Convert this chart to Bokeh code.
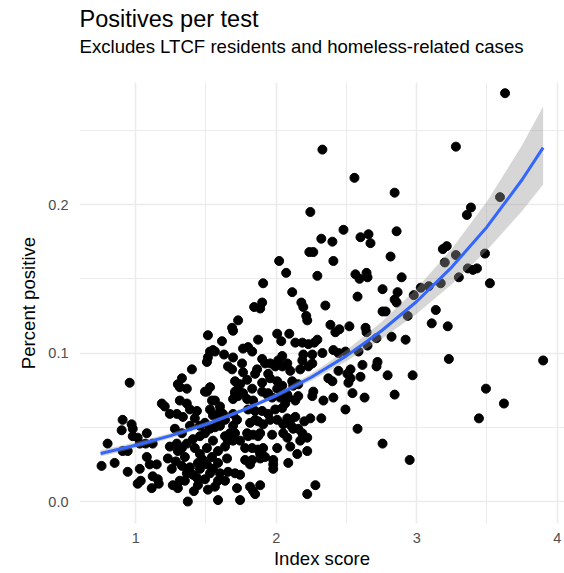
from bokeh.plotting import figure
from bokeh.models import Title, FixedTicker, Range1d, NumeralTickFormatter
from bokeh.embed import file_html
from bokeh.resources import INLINE

# Scatter data: index score vs percent positive
index_score = [
    3.629, 2.329, 3.279, 2.557, 2.843, 3.593, 3.386, 3.357, 2.243, 2.479,
    2.857, 2.321, 2.400, 2.600, 2.657, 2.671, 2.814, 3.186, 3.214, 3.279,
    3.200, 3.486, 2.021, 2.236, 2.264, 2.407, 2.071, 2.293, 2.564, 2.643,
    2.593, 2.650, 2.893, 1.907, 3.364, 3.400, 3.429, 3.300, 3.521, 2.757,
    2.864, 2.579, 2.114, 2.179, 2.193, 2.350, 1.843, 1.900, 1.886, 2.843,
    2.857, 2.757, 2.779, 3.136, 3.107, 3.221, 2.936, 2.979, 3.029, 3.086,
    3.171, 2.214, 2.221, 2.386, 2.421, 2.450, 2.521, 2.636, 2.643, 1.729,
    1.686, 1.693, 1.514, 1.614, 2.007, 2.093, 1.871, 2.293, 2.821, 2.921,
    2.714, 2.036, 2.650, 2.586, 3.229, 3.900, 2.529, 2.507, 2.529, 2.514,
    2.600, 2.614, 2.721, 2.714, 2.793, 2.971, 2.543, 2.629, 2.843, 2.493,
    3.493, 3.621, 3.443, 2.579, 2.757, 2.950, 1.529, 1.550, 1.514, 1.507,
    1.400, 1.329, 0.957, 1.314, 1.364, 1.529, 1.507, 2.136, 2.186, 2.229,
    2.271, 1.564, 1.629, 1.764, 1.800, 1.829, 1.693, 1.900, 2.043, 2.193,
    2.257, 2.329, 2.407, 2.443, 1.657, 1.686, 1.757, 1.764, 1.864, 1.957,
    1.993, 2.043, 2.079, 2.100, 2.171, 2.257, 2.371, 2.400, 2.443, 1.707,
    1.743, 1.793, 1.900, 1.957, 2.007, 2.043, 2.114, 1.829, 2.493, 1.921,
    1.943, 1.850, 2.014, 2.007, 1.936, 1.971, 2.029, 2.079, 2.121, 2.157,
    2.186, 2.229, 1.836, 1.729, 1.707, 1.693, 1.493, 1.543, 1.300, 1.186,
    1.207, 1.314, 1.364, 1.386, 1.243, 1.293, 1.336, 1.436, 1.421, 0.907,
    0.971, 0.979, 0.900, 1.079, 0.979, 1.014, 0.800, 0.907, 0.943, 1.029,
    1.071, 1.121, 1.243, 1.293, 1.329, 1.364, 1.407, 1.457, 1.493, 1.529,
    1.564, 0.757, 0.850, 1.079, 1.100, 1.150, 1.029, 0.943, 1.229, 1.257,
    1.121, 1.157, 1.014, 1.036, 1.114, 1.264, 1.329, 1.364, 1.386, 1.407,
    1.436, 1.479, 1.507, 1.529, 1.550, 1.493, 1.350, 1.371, 1.586, 1.300,
    1.350, 1.421, 1.457, 1.507, 1.550, 1.586, 1.543, 1.443, 1.286, 1.457,
    1.586, 1.600, 1.586, 1.443, 1.514, 1.564, 1.414, 1.636, 1.657, 1.600,
    1.636, 1.550, 1.493, 1.529, 1.600, 1.457, 1.386, 1.329, 1.279, 1.850,
    1.900, 1.850, 1.793, 1.836, 1.886, 1.829, 1.886, 1.907, 1.650, 1.671,
    1.693, 1.779, 1.814, 1.829, 1.886, 1.979, 1.979, 1.979, 2.086, 1.707,
    1.743, 1.721, 1.814, 1.836, 1.886, 1.743, 1.314, 1.300, 2.221, 2.100,
    2.150, 2.221, 1.707, 1.729, 1.764, 1.793, 1.900, 1.943, 2.043, 2.064,
    2.086, 2.157, 2.136, 2.257, 2.264, 2.336, 2.407, 1.564, 1.600, 1.621,
    1.586, 1.800, 1.943, 1.993, 2.043, 2.079, 2.136, 1.693, 1.721, 1.693,
    1.707, 1.814, 1.871, 1.907, 1.957, 2.007, 2.050, 2.243, 2.321, 1.800,
    1.871, 1.971, 2.050, 2.079, 2.121, 2.157, 2.186, 2.221, 1.636, 1.657,
    1.636, 1.743, 1.779, 1.871, 1.921, 2.007, 2.279, 1.164, 1.850, 2.100,
    2.107, 2.200, 2.171,
]
percent_positive = [
    0.275, 0.237, 0.239, 0.218, 0.208, 0.205, 0.198, 0.193, 0.195, 0.183,
    0.182, 0.177, 0.175, 0.178, 0.180, 0.174, 0.165, 0.170, 0.172, 0.166,
    0.161, 0.167, 0.162, 0.168, 0.168, 0.162, 0.154, 0.152, 0.153, 0.154,
    0.150, 0.151, 0.151, 0.147, 0.157, 0.156, 0.157, 0.151, 0.147, 0.143,
    0.141, 0.138, 0.141, 0.134, 0.131, 0.132, 0.131, 0.134, 0.130, 0.136,
    0.134, 0.128, 0.128, 0.129, 0.120, 0.118, 0.125, 0.139, 0.144, 0.145,
    0.147, 0.125, 0.122, 0.119, 0.114, 0.116, 0.118, 0.117, 0.114, 0.122,
    0.117, 0.115, 0.112, 0.108, 0.113, 0.113, 0.109, 0.109, 0.111, 0.109,
    0.110, 0.108, 0.105, 0.101, 0.096, 0.095, 0.089, 0.086, 0.083, 0.080,
    0.084, 0.092, 0.094, 0.091, 0.085, 0.085, 0.073, 0.070, 0.072, 0.062,
    0.076, 0.066, 0.056, 0.049, 0.039, 0.028, 0.101, 0.102, 0.097, 0.094,
    0.089, 0.083, 0.080, 0.077, 0.076, 0.077, 0.074, 0.107, 0.107, 0.106,
    0.107, 0.101, 0.099, 0.103, 0.104, 0.101, 0.097, 0.096, 0.098, 0.099,
    0.099, 0.100, 0.102, 0.100, 0.091, 0.089, 0.093, 0.087, 0.089, 0.093,
    0.091, 0.091, 0.093, 0.088, 0.089, 0.093, 0.083, 0.081, 0.088, 0.081,
    0.079, 0.082, 0.080, 0.083, 0.081, 0.078, 0.081, 0.076, 0.101, 0.093,
    0.086, 0.086, 0.095, 0.076, 0.072, 0.070, 0.070, 0.072, 0.078, 0.079,
    0.095, 0.091, 0.068, 0.076, 0.073, 0.069, 0.074, 0.068, 0.079, 0.066,
    0.064, 0.068, 0.066, 0.062, 0.059, 0.059, 0.057, 0.061, 0.056, 0.055,
    0.052, 0.049, 0.048, 0.046, 0.044, 0.043, 0.039, 0.034, 0.034, 0.039,
    0.039, 0.039, 0.037, 0.039, 0.036, 0.039, 0.042, 0.044, 0.046, 0.049,
    0.050, 0.024, 0.026, 0.030, 0.025, 0.025, 0.022, 0.020, 0.029, 0.022,
    0.017, 0.015, 0.012, 0.014, 0.009, 0.011, 0.024, 0.019, 0.023, 0.018,
    0.016, 0.028, 0.025, 0.019, 0.022, 0.015, 0.014, 0.000, 0.001, 0.034,
    0.030, 0.036, 0.032, 0.036, 0.041, 0.034, 0.030, 0.026, 0.027, 0.022,
    0.026, 0.019, 0.014, 0.011, 0.008, 0.010, 0.007, 0.014, 0.020, 0.051,
    0.055, 0.058, 0.053, 0.062, 0.064, 0.051, 0.051, 0.046, 0.049, 0.061,
    0.061, 0.055, 0.046, 0.045, 0.046, 0.036, 0.032, 0.036, 0.029, 0.046,
    0.041, 0.028, 0.025, 0.028, 0.029, 0.028, 0.025, 0.022, 0.026, 0.019,
    0.018, 0.009, 0.010, 0.007, 0.011, 0.001, 0.014, 0.009, 0.005, 0.037,
    0.032, 0.034, 0.074, 0.071, 0.073, 0.069, 0.074, 0.073, 0.072, 0.066,
    0.070, 0.071, 0.068, 0.071, 0.074, 0.068, 0.070, 0.068, 0.061, 0.059,
    0.055, 0.062, 0.059, 0.062, 0.063, 0.056, 0.057, 0.059, 0.055, 0.051,
    0.046, 0.053, 0.054, 0.052, 0.055, 0.055, 0.052, 0.056, 0.056, 0.044,
    0.044, 0.045, 0.046, 0.043, 0.049, 0.049, 0.046, 0.043, 0.044, 0.041,
    0.037, 0.041, 0.036, 0.035, 0.030, 0.036, 0.011, 0.012, 0.005, 0.055,
    0.051, 0.054, 0.041,
]

# Smoothed fit and its confidence band
fit_x = [0.75, 1.0, 1.25, 1.5, 1.75, 2.0, 2.25, 2.5, 2.75, 3.0, 3.25, 3.5, 3.75, 3.9]
fit_y = [0.0323, 0.0379, 0.0444, 0.0520, 0.0610, 0.0714, 0.0837, 0.0981,
         0.1150, 0.1347, 0.1579, 0.1849, 0.2167, 0.2383]
fit_lo = [0.0303, 0.0360, 0.0426, 0.0505, 0.0597, 0.0699, 0.0814, 0.0944,
          0.1094, 0.1265, 0.1464, 0.1692, 0.1957, 0.2135]
fit_hi = [0.0345, 0.0399, 0.0462, 0.0536, 0.0623, 0.0729, 0.0860, 0.1019,
          0.1209, 0.1434, 0.1703, 0.2020, 0.2399, 0.2660]

x_ticks = [1, 2, 3, 4]
x_minor = [1.5, 2.5, 3.5]
y_ticks = [0.0, 0.1, 0.2]
y_minor = [0.05, 0.15, 0.25]

FONT = "Liberation Sans"

p = figure(width=564, height=573, output_backend="svg", toolbar_location=None,
           x_range=Range1d(0.6, 4.052), y_range=Range1d(-0.0148, 0.2822),
           min_border_left=79, min_border_right=0, min_border_top=82,
           min_border_bottom=50, background_fill_color="white",
           border_fill_color="white")
p.title.visible = False

# spacer between the plot area and the subtitle
spacer = Title(text=" ", text_font=FONT, text_font_size="1px", standoff=23)
sub = Title(text="Excludes LTCF residents and homeless-related cases",
            text_font=FONT, text_font_size="18.6px", text_font_style="normal",
            text_color="black", align="left", standoff=0, offset=0)
main = Title(text="Positives per test", text_font=FONT, text_font_size="23.5px",
             text_font_style="normal", text_color="black", align="left",
             vertical_align="top", standoff=0, offset=0)
p.add_layout(spacer, "above")
p.add_layout(sub, "above")
p.add_layout(main, "above")

p.outline_line_color = None

p.scatter(index_score, percent_positive, size=9, color="black")
p.varea(x=fit_x, y1=fit_lo, y2=fit_hi, fill_color="#999999", fill_alpha=0.4)
p.line(fit_x, fit_y, line_color="#3366FF", line_width=3)

p.xaxis.ticker = FixedTicker(ticks=x_ticks, minor_ticks=x_minor)
p.yaxis.ticker = FixedTicker(ticks=y_ticks, minor_ticks=y_minor)
p.yaxis.formatter = NumeralTickFormatter(format="0.0")

for ax in (p.xaxis, p.yaxis):
    ax.axis_line_color = None
    ax.major_tick_line_color = None
    ax.minor_tick_line_color = None
    ax.major_tick_in = 0
    ax.major_tick_out = 0
    ax.minor_tick_in = 0
    ax.minor_tick_out = 0
    ax.major_label_text_font = FONT
    ax.major_label_text_font_size = "14.5px"
    ax.major_label_text_color = "#4D4D4D"
    ax.axis_label_text_font = FONT
    ax.axis_label_text_font_size = "18.6px"
    ax.axis_label_text_font_style = "normal"
    ax.axis_label_text_color = "black"

p.xaxis.axis_label = "Index score"
p.yaxis.axis_label = "Percent positive"
p.xaxis.major_label_standoff = 9
p.xaxis.axis_label_standoff = 2
p.yaxis.major_label_standoff = 11
p.yaxis.axis_label_standoff = 6

for g in (p.xgrid, p.ygrid):
    g.grid_line_color = "#EBEBEB"
    g.grid_line_width = 1.6
    g.minor_grid_line_color = "#EBEBEB"
    g.minor_grid_line_width = 1.0

open("out.html", "w").write(file_html(p, INLINE))
